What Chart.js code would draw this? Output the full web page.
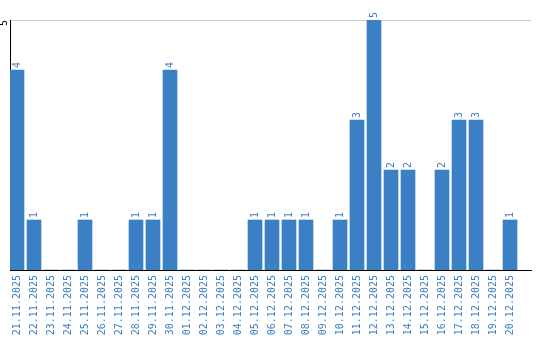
<!DOCTYPE html>
<html>
<head>
<meta charset="utf-8">
<script src="https://cdn.jsdelivr.net/npm/chart.js@4.4.1/dist/chart.umd.min.js"></script>
<style>
  html, body { margin: 0; padding: 0; background: #fff; }
  canvas { display: block; }
</style>
</head>
<body>
<canvas id="dayChart" width="540" height="340"></canvas>
<script>
const days = [
    '21.11.2025', '22.11.2025', '23.11.2025', '24.11.2025', '25.11.2025',
    '26.11.2025', '27.11.2025', '28.11.2025', '29.11.2025', '30.11.2025',
    '01.12.2025', '02.12.2025', '03.12.2025', '04.12.2025', '05.12.2025',
    '06.12.2025', '07.12.2025', '08.12.2025', '09.12.2025', '10.12.2025',
    '11.12.2025', '12.12.2025', '13.12.2025', '14.12.2025', '15.12.2025',
    '16.12.2025', '17.12.2025', '18.12.2025', '19.12.2025', '20.12.2025'
];
const counts = [
    4, 1, 0, 0, 1, 0, 0, 1, 1, 4,
    0, 0, 0, 0, 1, 1, 1, 1, 0, 1,
    3, 5, 2, 2, 0, 2, 3, 3, 0, 1
];
const yTicks = [5];

const blue = '#3b7dc2';
const labelFont = { family: 'DejaVu Sans Mono', size: 10 };

// value labels written vertically above each bar
const valueLabels = {
    id: 'valueLabels',
    afterDatasetsDraw(chart) {
        const ctx = chart.ctx;
        const meta = chart.getDatasetMeta(0);
        ctx.save();
        ctx.fillStyle = blue;
        ctx.font = labelFont.size + 'px "' + labelFont.family + '"';
        ctx.textAlign = 'left';
        ctx.textBaseline = 'middle';
        meta.data.forEach((bar, i) => {
            if (!counts[i]) return;
            ctx.save();
            ctx.translate(bar.x, bar.y - 2);
            ctx.rotate(-Math.PI / 2);
            ctx.fillText(String(counts[i]), 0, 0);
            ctx.restore();
        });
        ctx.restore();
    }
};

new Chart(document.getElementById('dayChart'), {
    type: 'bar',
    data: {
        datasets: [{
            data: counts.map((v, i) => ({ x: i, y: v })),
            backgroundColor: '#3b7fc4',
            borderWidth: 0,
            barThickness: 14
        }]
    },
    options: {
        responsive: false,
        animation: false,
        layout: { padding: { top: 20, right: 9, left: 0, bottom: 0 } },
        plugins: {
            legend: { display: false },
            tooltip: { enabled: false }
        },
        scales: {
            x: {
                type: 'linear',
                offset: false,
                min: -7 / 17,
                max: 30.235,
                grid: { display: false, drawTicks: false, offset: false },
                border: { display: true, color: '#000', width: 1 },
                afterFit(scale) {
                    scale.height = 70;
                    scale.paddingLeft = 0;
                    scale.paddingRight = 0;
                },
                ticks: {
                    stepSize: 1,
                    includeBounds: false,
                    autoSkip: false,
                    minRotation: 90,
                    maxRotation: 90,
                    padding: 5,
                    color: blue,
                    font: labelFont,
                    callback: (v) => days[v] || ''
                }
            },
            y: {
                min: 0,
                max: 5,
                afterBuildTicks(scale) {
                    scale.ticks = yTicks.map(v => ({ value: v }));
                },
                afterFit(scale) { scale.width = 10; },
                grid: { color: '#cccccc', drawTicks: false },
                border: { display: true, color: '#000', width: 1 },
                ticks: {
                    minRotation: 90,
                    maxRotation: 90,
                    padding: 6,
                    color: '#000',
                    font: labelFont
                }
            }
        }
    },
    plugins: [valueLabels]
});
</script>
</body>
</html>
